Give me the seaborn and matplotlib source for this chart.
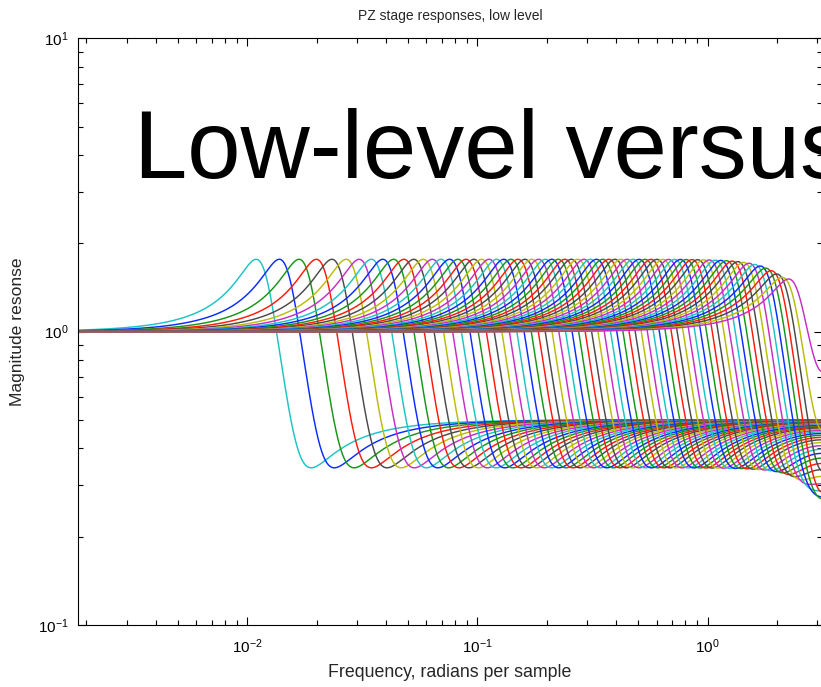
import numpy as np
import pandas as pd
import matplotlib
matplotlib.use("Agg")
import matplotlib.pyplot as plt
import seaborn as sns
from matplotlib.ticker import LogLocator, LogFormatterSciNotation, NullFormatter

# Pole frequency of each stage of the cascade, radians per sample (low to high)
pole_freqs = [
    0.0118, 0.01487, 0.01812, 0.02155, 0.02518, 0.02902, 0.03307, 0.03736, 0.04189, 0.04668,
    0.05174, 0.05710, 0.06276, 0.06874, 0.07506, 0.08174, 0.08881, 0.09628, 0.1042, 0.1125,
    0.1213, 0.1307, 0.1405, 0.1510, 0.1620, 0.1736, 0.1859, 0.1989, 0.2127, 0.2272,
    0.2426, 0.2589, 0.2761, 0.2942, 0.3134, 0.3337, 0.3552, 0.3778, 0.4018, 0.4272,
    0.4539, 0.4823, 0.5122, 0.5438, 0.5773, 0.6127, 0.6500, 0.6896, 0.7313, 0.7755,
    0.8222, 0.8715, 0.9237, 0.9788, 1.0371, 1.0987, 1.1638, 1.2327, 1.3055, 1.3824,
    1.4638, 1.5497, 1.6406, 1.7367, 1.8383, 1.9456, 2.0591, 2.1791, 2.3059, 2.4400,
]
# Low-level stage shape: pole damping, zero/pole frequency ratio, zero damping
pole_damping = 0.18
zero_ratio = 2 ** 0.5
zero_damping = 0.22

line_colors = ["#1cc4c4", "#0a2cff", "#169616", "#ff1a0a", "#4a4a4a", "#bcbc08", "#c62ec6"]
freq_limits = (0.00184, np.pi)
mag_limits = (0.1, 10.0)

title_text = "PZ stage responses, low level"
x_label = "Frequency, radians per sample"
y_label = "Magnitude resonse"
overlay_text = "Low-level versus"


def stage_magnitude(wp, w):
    """Magnitude of a two-pole two-zero stage, normalised to unit DC gain."""
    z = np.exp(1j * w)
    p = np.exp(wp * (-pole_damping + 1j * np.sqrt(1 - pole_damping ** 2)))
    wz = wp * zero_ratio
    q = np.exp(wz * (-zero_damping + 1j * np.sqrt(1 - zero_damping ** 2)))
    num = (z - q) * (z - np.conj(q))
    den = (z - p) * (z - np.conj(p))
    dc = np.abs((1 - p) * (1 - np.conj(p))) / np.abs((1 - q) * (1 - np.conj(q)))
    return dc * np.abs(num / den)


freq_grid = np.logspace(np.log10(freq_limits[0]), np.log10(freq_limits[1]), 1600)
frames = []
for k, wp in enumerate(pole_freqs):
    frames.append(pd.DataFrame({
        "freq": freq_grid,
        "mag": stage_magnitude(wp, freq_grid),
        "stage": k,
    }))
df = pd.concat(frames, ignore_index=True)

sns.set_theme(style="white")
plt.rcParams["font.family"] = ["Liberation Sans", "DejaVu Sans"]
plt.rcParams["axes.edgecolor"] = "black"
plt.rcParams["axes.linewidth"] = 0.8

fig = plt.figure(figsize=(8.21, 6.87), dpi=100)
W, H = 821, 687
ax = fig.add_axes([78 / W, (H - 625) / H, (822 - 78) / W, (625 - 38.3) / H])

palette = [line_colors[k % len(line_colors)] for k in range(len(pole_freqs))]
sns.lineplot(data=df, x="freq", y="mag", hue="stage", palette=palette,
             legend=False, estimator=None, sort=False, linewidth=1.05, ax=ax)

ax.set_xscale("log")
ax.set_yscale("log")
ax.set_xlim(*freq_limits)
ax.set_ylim(*mag_limits)

for axis in (ax.xaxis, ax.yaxis):
    axis.set_major_locator(LogLocator(base=10, numticks=10))
    axis.set_minor_locator(LogLocator(base=10, subs=np.arange(2, 10), numticks=20))
    axis.set_major_formatter(LogFormatterSciNotation())
    axis.set_minor_formatter(NullFormatter())

ax.tick_params(which="both", direction="in", top=True, right=True,
               bottom=True, left=True, colors="black", labelsize=11, width=0.8)
ax.tick_params(which="major", length=6)
ax.tick_params(which="minor", length=3.4)
ax.tick_params(axis="x", which="major", pad=9)
ax.tick_params(axis="y", which="major", pad=7)
for s in ax.spines.values():
    s.set_color("black")
    s.set_linewidth(0.8)

ax.set_title(title_text, fontsize=10, pad=13)
ax.set_xlabel(x_label, fontsize=12.8, labelpad=6)
ax.set_ylabel(y_label, fontsize=12.6, labelpad=9)

fig.text(134 / W, 1 - 178 / H, overlay_text, fontsize=69, color="black",
         ha="left", va="baseline", family="Liberation Sans")

fig.savefig("out.png", dpi=100, facecolor="white")
